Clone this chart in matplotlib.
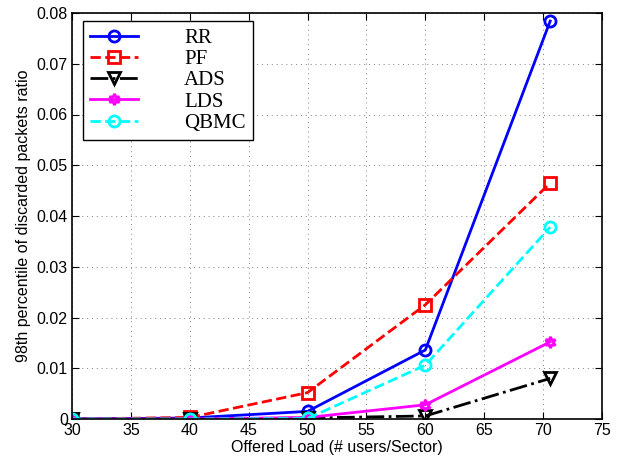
import numpy as np
import matplotlib.pyplot as plt
import matplotlib as mpl

mpl.rcParams['font.family'] = ['Liberation Sans', 'DejaVu Sans']

load = [30, 40, 50, 60, 70.6]
rr = [0.0, 0.0002, 0.0015, 0.0136, 0.0784]
pf = [0.0, 0.0003, 0.0052, 0.0225, 0.0465]
ads = [0.0, 0.0, 0.0002, 0.0006, 0.0080]
lds = [0.0, 0.0, 0.0003, 0.0028, 0.0152]
qbmc = [0.0, 0.0, 0.0001, 0.0106, 0.0378]

fig = plt.figure(figsize=(6.28, 4.66), dpi=100)
ax = fig.add_axes((72/628, 47/466, 530/628, 406/466))

kw = dict(lw=2, ms=8, mew=2, mfc='none')
ax.plot(load, rr, '-', c='#0000ff', marker='o', label='RR', **kw)
ax.plot(load, pf, '--', c='#ff0000', marker='s', label='PF', **kw)
ax.plot(load, ads, '-.', c='black', marker='v', label='ADS', **kw)
ax.plot(load, lds, '-', c='#ff00ff', marker=(6, 1, 0), label='LDS', **kw)
ax.plot(load, qbmc, '--', c='#00ffff', marker='o', label='QBMC', **kw)

ax.set_xlim(30, 75)
ax.set_ylim(0, 0.08)
ax.set_xticks(np.arange(30, 76, 5))
ax.set_yticks(np.arange(0, 0.081, 0.01))
ax.set_yticklabels(['0', '0.01', '0.02', '0.03', '0.04', '0.05', '0.06', '0.07', '0.08'])
ax.grid(True, ls=(0, (1, 4)), c='#808080', lw=0.7)
ax.tick_params(direction='in', top=True, right=True, labelsize=11.5, length=5, width=0.8, pad=3)
for sp in ax.spines.values():
    sp.set_linewidth(1.2)

ax.set_xlabel('Offered Load (# users/Sector)', fontsize=11.5, labelpad=1)
ax.set_ylabel('98th percentile of discarded packets ratio', fontsize=11.5, labelpad=4)

leg = ax.legend(loc='upper left', bbox_to_anchor=(0.021, 0.98), borderaxespad=0,
                prop={'family': 'Liberation Serif', 'size': 15},
                handlelength=2.3, handletextpad=2.2, labelspacing=0.08, borderpad=0.35,
                fancybox=False, framealpha=1, edgecolor='black')
leg.get_frame().set_linewidth(1.0)

fig.savefig('out.png', dpi=100)
